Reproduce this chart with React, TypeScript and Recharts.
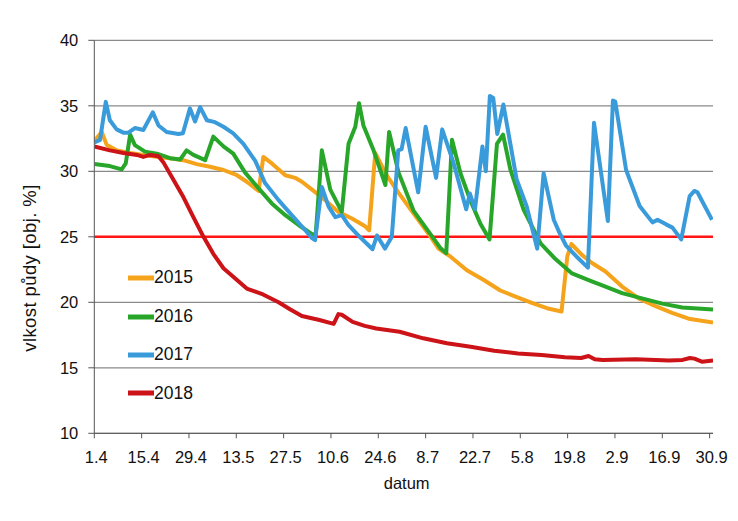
import React from 'react';
import { LineChart, Line, XAxis, YAxis, CartesianGrid, ReferenceLine, Legend, Label } from 'recharts';

// day offsets from 1.4 and their date labels
const dateTicks = [0, 14, 28, 42, 56, 70, 84, 98, 112, 126, 140, 154, 168, 182];
const dateLabels = ['1.4', '15.4', '29.4', '13.5', '27.5', '10.6', '24.6', '8.7', '22.7', '5.8', '19.8', '2.9', '16.9', '30.9'];
const moistureTicks = [10, 15, 20, 25, 30, 35, 40];
const limitValue = 25;

// [day, soil moisture %]
const s2015: [number, number][] = [
  [0, 32.3], [2.2, 33.0], [3.7, 32.0], [6.6, 31.6], [10.6, 31.4], [14.5, 31.25], [18.5, 31.1], [22.4, 31.0],
  [26.3, 30.85], [30.3, 30.55], [34.2, 30.35], [38.2, 30.1], [42.2, 29.7], [45.1, 29.2], [48.6, 28.5], [50, 31.1],
  [52.5, 30.6], [56.5, 29.7], [59.4, 29.5], [61.4, 29.2], [64.4, 28.6], [68.3, 27.8], [72.2, 26.9], [76.2, 26.4],
  [80.1, 25.8], [81.3, 25.5], [83.1, 31.4], [86.1, 29.85], [90, 28.35], [94.4, 26.8], [99.5, 25.0], [101.8, 24.1],
  [105.3, 23.5], [110.2, 22.45], [115.2, 21.7], [120.1, 20.9], [125, 20.4], [130, 19.9], [133.9, 19.55], [138.2, 19.3],
  [139.9, 23.5], [141.1, 24.45], [144.3, 23.6], [147.2, 23.0], [151.2, 22.35], [156.1, 21.2], [161, 20.3], [166, 19.7],
  [170.9, 19.2], [175.8, 18.75], [183, 18.45],
];

const s2016: [number, number][] = [
  [0, 30.55], [4.6, 30.4], [8.1, 30.15], [9.3, 30.6], [10.6, 32.8], [12, 32.0], [15, 31.5], [18.5, 31.35],
  [22.4, 31.0], [25.4, 30.9], [27.3, 31.6], [29.3, 31.25], [32.8, 30.85], [35.2, 32.65], [38.2, 31.9], [41.1, 31.35],
  [44.6, 29.9], [48.6, 28.7], [52.5, 27.55], [56.5, 26.65], [60.4, 25.9], [64.4, 25.2], [65.5, 25.2], [67.3, 31.6],
  [69.8, 28.6], [73.2, 26.9], [75.2, 32.1], [77.2, 33.4], [78.3, 35.2], [79.6, 33.5], [82.6, 31.6], [86.1, 28.95],
  [87.2, 33.0], [90, 29.9], [94.4, 27.0], [100, 25.0], [102.5, 24.1], [104.1, 23.75], [105.8, 32.4], [108.3, 29.85],
  [111.2, 27.8], [114.2, 26.0], [116.9, 24.8], [119.1, 32.1], [120.9, 32.8], [123.1, 30.1], [127, 27.05], [132, 24.5],
  [136.4, 23.3], [141.3, 22.2], [146.2, 21.7], [151.2, 21.2], [156.1, 20.7], [162, 20.3], [168, 19.9], [173.9, 19.6],
  [183, 19.45],
];

const s2017: [number, number][] = [
  [0, 32.2], [1.7, 32.4], [3.4, 35.3], [4.6, 33.9], [6.6, 33.2], [8.6, 32.95], [10.1, 32.95], [12, 33.3],
  [14.5, 33.15], [17.3, 34.5], [19, 33.5], [21.4, 33.0], [24.9, 32.85], [26.2, 32.9], [28.3, 34.8], [29.8, 33.8],
  [31.3, 34.9], [33.3, 33.9], [35.7, 33.75], [38.2, 33.4], [41.1, 32.9], [44.1, 32.1], [47.6, 30.8], [50.5, 29.1],
  [54.5, 27.8], [58.4, 26.65], [62.4, 25.5], [64.4, 24.9], [65.3, 24.75], [67.3, 28.8], [69.3, 27.3], [71.3, 26.5],
  [73.2, 26.65], [75.2, 25.9], [78.5, 25.0], [82.3, 24.05], [83.6, 25.1], [86, 24.1], [88, 25.0], [89.9, 31.6],
  [90.9, 31.7], [92.1, 33.3], [95.8, 28.4], [98.0, 33.4], [101.1, 29.5], [102.9, 33.2], [106.3, 30.6], [110.0, 27.1],
  [111.1, 28.3], [112.6, 27.1], [114.8, 31.9], [115.8, 30.0], [117.0, 35.75], [118.0, 35.6], [119.2, 32.85], [121.0, 35.1],
  [124.9, 29.4], [127.8, 27.4], [131.0, 24.1], [132.9, 29.85], [135.9, 26.3], [137.6, 25.3], [139.6, 24.3], [142.6, 23.5],
  [146.0, 22.65], [147.8, 33.7], [151.9, 26.2], [153.4, 35.4], [154.1, 35.3], [157.3, 30.1], [161.3, 27.35], [165.1, 26.1],
  [166.6, 26.3], [169.1, 25.95], [171.0, 25.7], [173.6, 24.8], [176.1, 28.1], [177.5, 28.5], [178.4, 28.4], [182.7, 26.3],
];

const s2018: [number, number][] = [
  [0, 31.9], [4.6, 31.6], [8.6, 31.4], [12.6, 31.25], [14.5, 31.1], [16.5, 31.25], [19, 31.15], [20.4, 30.7],
  [23.4, 29.35], [26.3, 28.05], [29.3, 26.5], [32.3, 25.0], [35.2, 23.7], [38.2, 22.6], [42.2, 21.7], [45.1, 21.05],
  [49.9, 20.6], [54.5, 20.0], [58, 19.45], [61.4, 18.95], [66.6, 18.65], [70.8, 18.35], [72.2, 19.1], [73.2, 19.05],
  [76.4, 18.5], [80, 18.2], [83.4, 18.0], [90.3, 17.75], [97.3, 17.25], [104.3, 16.87], [111.3, 16.6], [118.3, 16.3],
  [125.3, 16.1], [132.3, 15.97], [139.2, 15.8], [144, 15.75], [146.2, 15.9], [148, 15.65], [150.4, 15.6], [160.2, 15.65],
  [170, 15.55], [174, 15.6], [176.2, 15.75], [177.5, 15.7], [179.7, 15.47], [183, 15.55],
];

const series = [
  { name: '2015', color: '#f6a31c', points: s2015 },
  { name: '2016', color: '#27a629', points: s2016 },
  { name: '2017', color: '#3a9bdb', points: s2017 },
  { name: '2018', color: '#cc1318', points: s2018 },
];

const FONT = '"Liberation Sans", Arial, sans-serif';

const LegendBox = ({ payload }: any) => (
  <div style={{ fontFamily: FONT }}>
    {(payload || []).map((item: any) => (
      <div key={item.value} style={{ display: 'flex', alignItems: 'center', height: 38.4 }}>
        <svg width={26} height={6} style={{ display: 'block' }}>
          <line x1={0} y1={3} x2={26} y2={3} stroke={item.color} strokeWidth={5} />
        </svg>
        <span style={{ fontSize: 17.5, color: '#111', lineHeight: 1 }}>{item.value}</span>
      </div>
    ))}
  </div>
);

export default function App() {
  return (
    <div style={{ position: 'absolute', left: 0, top: 0, width: 738, height: 521, background: '#fff' }}>
      <LineChart width={738} height={521} margin={{ top: 40.3, right: 25, left: 34.3, bottom: 27.7 }}>
        <CartesianGrid vertical={false} stroke="#8a8a8a" strokeWidth={1.2} />
        <XAxis
          type="number"
          dataKey="d"
          domain={[0, 183]}
          ticks={dateTicks}
          tickFormatter={(t: number) => dateLabels[dateTicks.indexOf(t)]}
          height={60}
          tickSize={5}
          tickMargin={13}
          stroke="#555"
          tick={{ fill: '#111', fontSize: 16.5, fontFamily: FONT, dx: 2 }}
          allowDataOverflow
        >
          <Label
            content={({ viewBox }: any) => (
              <text x={viewBox.x + viewBox.width / 2 + 3} y={viewBox.y + 56} textAnchor="middle"
                fontSize={16.5} fontFamily={FONT} fill="#111">datum</text>
            )}
          />
        </XAxis>
        <YAxis
          type="number"
          domain={[10, 40]}
          ticks={moistureTicks}
          width={60}
          tickSize={6}
          tickMargin={10}
          stroke="#555"
          tick={{ fill: '#111', fontSize: 16.5, fontFamily: FONT }}
        >
          <Label
            content={() => (
              <text x={36} y={268} transform="rotate(-90 36 268)" textAnchor="middle"
                fontSize={18.5} fontFamily={FONT} fill="#111" letterSpacing={0.4}>vlkost půdy [obj. %]</text>
            )}
          />
        </YAxis>
        <ReferenceLine y={limitValue} stroke="#ff1414" strokeWidth={2.5} />
        {series.map((s) => (
          <Line
            key={s.name}
            name={s.name}
            data={s.points.map(([d, v]) => ({ d, v }))}
            dataKey="v"
            type="linear"
            stroke={s.color}
            strokeWidth={4}
            strokeLinejoin="round"
            dot={false}
            activeDot={false}
            isAnimationActive={false}
          />
        ))}
        <Legend
          layout="vertical"
          align="center"
          verticalAlign="middle"
          content={<LegendBox />}
          wrapperStyle={{ left: 128, top: 259, width: 90 }}
        />
      </LineChart>
    </div>
  );
}
